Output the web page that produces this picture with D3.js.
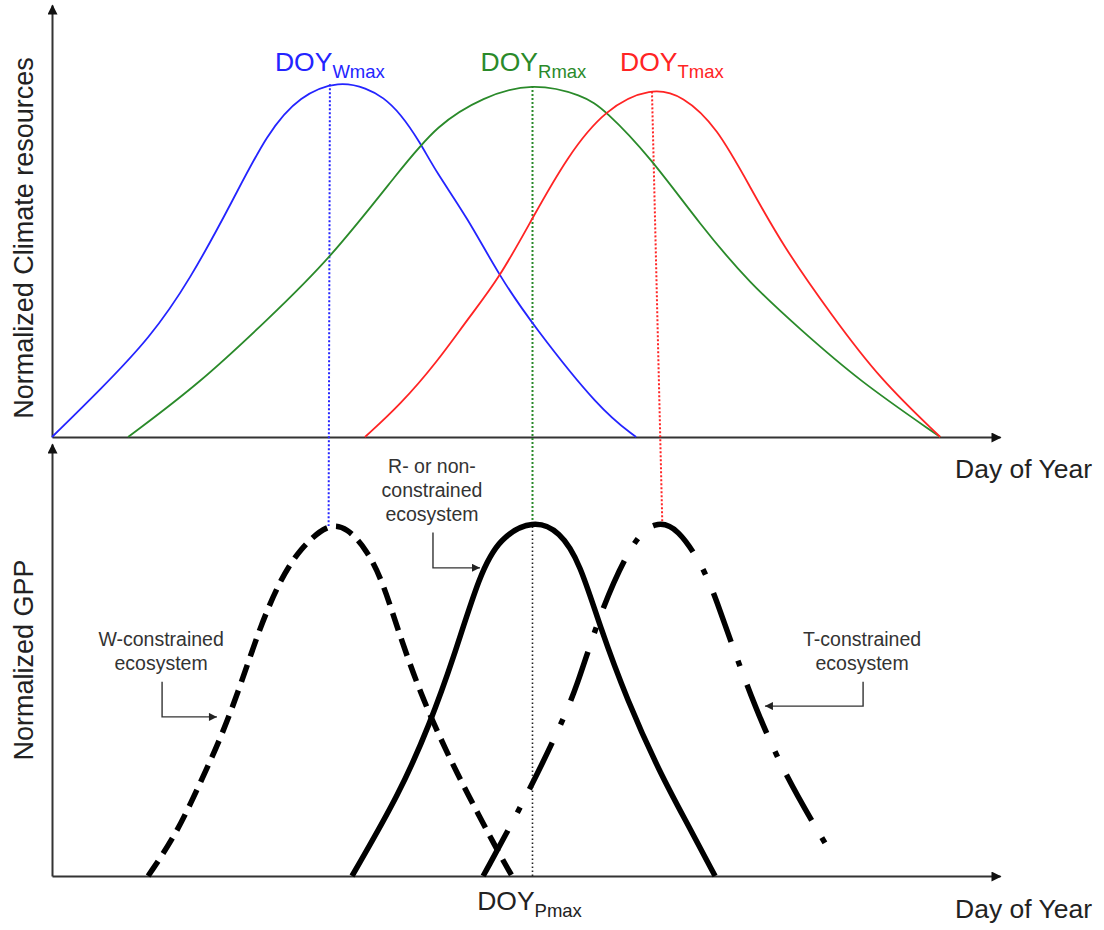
<!DOCTYPE html>
<html>
<head>
<meta charset="utf-8">
<script src="https://cdn.jsdelivr.net/npm/d3@7"></script>
<style>
  body { margin: 0; background: #fff; }
  text { font-family: "Liberation Sans", Arial, Helvetica, sans-serif; }
</style>
</head>
<body>
<svg id="chart"></svg>
<script>
// ---- data (day of year, normalized value) ----
// top panel: climate resources
const wDays = [0, 18.5, 37.7, 53.1, 69.7, 82.8, 95.5, 110.9, 121.3, 127.5, 134, 141.7, 147.9, 159.8, 172.5, 185.2, 211, 224.9];
const wClimate = [0, 0.131, 0.275, 0.436, 0.658, 0.844, 0.95, 0.99, 0.968, 0.944, 0.9, 0.819, 0.736, 0.611, 0.444, 0.311, 0.075, 0];

const rDays = [29.3, 57, 82.8, 107, 134, 148.2, 166, 184.8, 204.5, 213, 230.3, 249.5, 268.8, 288, 310, 342];
const rClimate = [0, 0.15, 0.325, 0.494, 0.742, 0.867, 0.945, 0.985, 0.95, 0.908, 0.778, 0.59, 0.425, 0.3, 0.16, 0];

const tDays = [120.5, 134, 148.2, 159.8, 172.5, 185.2, 198.3, 213, 230.7, 243, 256, 268.8, 281.5, 300, 318.8, 342];
const tClimate = [0, 0.089, 0.208, 0.325, 0.444, 0.611, 0.778, 0.912, 0.972, 0.948, 0.861, 0.694, 0.53, 0.34, 0.16, 0];

// bottom panel: GPP of the three ecosystem types
const wGppDays = [37, 48.1, 57, 64.7, 72.4, 80.1, 87.8, 95.5, 106.3, 113.6, 121.3, 127.5, 132.8, 141.7, 152.1, 159.8, 171.4, 177.1];
const wGpp = [0, 0.119, 0.258, 0.378, 0.525, 0.692, 0.822, 0.91, 0.98, 0.968, 0.906, 0.814, 0.692, 0.508, 0.342, 0.231, 0.072, 0];

const rGppDays = [115.5, 134, 145.6, 154.4, 164.8, 172.5, 185.2, 195.6, 203.3, 211, 221.4, 234.1, 244.5, 255.3];
const rGpp = [0, 0.231, 0.425, 0.6, 0.842, 0.94, 0.99, 0.958, 0.869, 0.692, 0.489, 0.286, 0.147, 0];

const tGppDays = [166, 181.4, 194.5, 202.2, 211, 223.7, 232.2, 240.7, 252.2, 258.4, 268.8, 281.5, 301.5];
const tGpp = [0, 0.203, 0.397, 0.525, 0.733, 0.935, 0.985, 0.972, 0.842, 0.711, 0.503, 0.286, 0.045];

// peak days: top curve peak -> bottom curve peak
const peakTopDays = [107, 185, 231];
const peakBotDays = [106.5, 185, 235];
const peakTopValues = [0.98, 0.975, 0.96];
const peakBotValues = [0.972, 0.982, 0.972];
const peakNames = ['Wmax', 'Rmax', 'Tmax'];

const colors = ['#2424ff', '#2a8a2a', '#ff2424'];

const width = 1104, height = 930;

const svg = d3.select('#chart')
    .attr('width', width)
    .attr('height', height);

const x = d3.scaleLinear().domain([0, 365]).range([52, 1000]);
const yTop = d3.scaleLinear().domain([0, 1.2]).range([437, 5]);
const yBot = d3.scaleLinear().domain([0, 1.2]).range([876, 444]);

// arrow markers
const defs = svg.append('defs');
defs.append('marker')
    .attr('id', 'axisArrow')
    .attr('viewBox', '0 0 10 10')
    .attr('refX', 9).attr('refY', 5)
    .attr('markerWidth', 11).attr('markerHeight', 10)
    .attr('markerUnits', 'userSpaceOnUse')
    .attr('orient', 'auto')
  .append('path')
    .attr('d', 'M0,0L10,5L0,10Z')
    .attr('fill', '#111');
defs.append('marker')
    .attr('id', 'noteArrow')
    .attr('viewBox', '0 0 10 10')
    .attr('refX', 10).attr('refY', 5)
    .attr('markerWidth', 9).attr('markerHeight', 8)
    .attr('markerUnits', 'userSpaceOnUse')
    .attr('orient', 'auto')
  .append('path')
    .attr('d', 'M0,0L10,5L0,10Z')
    .attr('fill', '#222');

// axes (no ticks, arrow at the end)
function drawAxes(yScale) {
    const xa = svg.append('g')
        .attr('transform', `translate(0,${yScale(0)})`)
        .call(d3.axisBottom(x).tickValues([]).tickSizeOuter(0));
    const ya = svg.append('g')
        .attr('transform', `translate(${x(0)},0)`)
        .call(d3.axisLeft(yScale).tickValues([]).tickSizeOuter(0));
    [xa, ya].forEach(a => a.select('.domain')
        .attr('stroke', '#333')
        .attr('stroke-width', 2)
        .attr('marker-end', 'url(#axisArrow)'));
}
drawAxes(yTop);
drawAxes(yBot);

const lineTop = d3.line()
    .x(d => x(d[0])).y(d => yTop(d[1]))
    .curve(d3.curveBasis);
const lineBot = d3.line()
    .x(d => x(d[0])).y(d => yBot(d[1]))
    .curve(d3.curveBasis);

// dotted connectors between peaks
peakTopDays.forEach((d, i) => {
    svg.append('line')
        .attr('x1', x(d)).attr('y1', yTop(peakTopValues[i]))
        .attr('x2', x(peakBotDays[i])).attr('y2', yBot(peakBotValues[i]))
        .attr('stroke', colors[i])
        .attr('stroke-width', 2)
        .attr('stroke-dasharray', '2,2');
});
// black dotted line down to DOY_Pmax
svg.append('line')
    .attr('x1', x(peakBotDays[1])).attr('y1', yBot(peakBotValues[1]))
    .attr('x2', x(peakBotDays[1])).attr('y2', yBot(0))
    .attr('stroke', '#222')
    .attr('stroke-width', 1.6)
    .attr('stroke-dasharray', '1.6,2.4');

// top curves
[[wDays, wClimate], [rDays, rClimate], [tDays, tClimate]].forEach((s, i) => {
    svg.append('path')
        .datum(d3.zip(s[0], s[1]))
        .attr('d', lineTop)
        .attr('fill', 'none')
        .attr('stroke', colors[i])
        .attr('stroke-width', 1.8);
});

// bottom curves
const gppStyles = ['18,9', null, '52,20,6,20'];
[[wGppDays, wGpp], [rGppDays, rGpp], [tGppDays, tGpp]].forEach((s, i) => {
    svg.append('path')
        .datum(d3.zip(s[0], s[1]))
        .attr('d', lineBot)
        .attr('fill', 'none')
        .attr('stroke', '#000')
        .attr('stroke-width', 5.5)
        .attr('stroke-dasharray', gppStyles[i]);
});

// DOY labels
const labelShift = [0, 1, 20];
peakTopDays.forEach((d, i) => {
    const t = svg.append('text')
        .attr('x', x(d) + labelShift[i])
        .attr('y', 71)
        .attr('text-anchor', 'middle')
        .attr('fill', colors[i])
        .attr('font-size', 26.5);
    t.append('tspan').text('DOY');
    t.append('tspan').attr('dy', 7).attr('font-size', 18.5).text(peakNames[i]);
});
const pm = svg.append('text')
    .attr('x', x(peakBotDays[1]) - 3)
    .attr('y', 910)
    .attr('text-anchor', 'middle')
    .attr('fill', '#222')
    .attr('font-size', 26.5);
pm.append('tspan').text('DOY');
pm.append('tspan').attr('dy', 7).attr('font-size', 18.5).text('Pmax');

// axis titles
svg.append('text')
    .attr('transform', 'translate(33,238) rotate(-90)')
    .attr('text-anchor', 'middle')
    .attr('fill', '#222')
    .attr('font-size', 27)
    .text('Normalized Climate resources');
svg.append('text')
    .attr('transform', 'translate(33,660) rotate(-90)')
    .attr('text-anchor', 'middle')
    .attr('fill', '#222')
    .attr('font-size', 27)
    .text('Normalized GPP');
[478, 918].forEach(yy => {
    svg.append('text')
        .attr('x', 955).attr('y', yy)
        .attr('fill', '#222')
        .attr('font-size', 26.5)
        .text('Day of Year');
});

// ecosystem annotations: text centre (day, value of first baseline), arrow tip (day, value)
const notes = [
    { lines: ['W-constrained', 'ecosystem'], day: 42, v: 0.639, tipDay: 63.5, tipV: 0.442 },
    { lines: ['R- or non-', 'constrained', 'ecosystem'], day: 146.3, v: 1.119, tipDay: 164.8, tipV: 0.856 },
    { lines: ['T-constrained', 'ecosystem'], day: 311.9, v: 0.639, tipDay: 274.5, tipV: 0.472 }
];
notes.forEach(n => {
    const cx = x(n.day), y0 = yBot(n.v);
    const t = svg.append('text')
        .attr('text-anchor', 'middle')
        .attr('fill', '#333')
        .attr('font-size', 19.5);
    n.lines.forEach((l, j) => {
        t.append('tspan').attr('x', cx).attr('y', y0 + j * 23.7).text(l);
    });
    const startY = y0 + (n.lines.length - 1) * 23.7 + 12;
    const tipX = x(n.tipDay), tipY = yBot(n.tipV);
    svg.append('path')
        .attr('d', `M${cx + 1},${startY}V${tipY}H${tipX}`)
        .attr('fill', 'none')
        .attr('stroke', '#333')
        .attr('stroke-width', 1.4)
        .attr('marker-end', 'url(#noteArrow)');
});
</script>
</body>
</html>
